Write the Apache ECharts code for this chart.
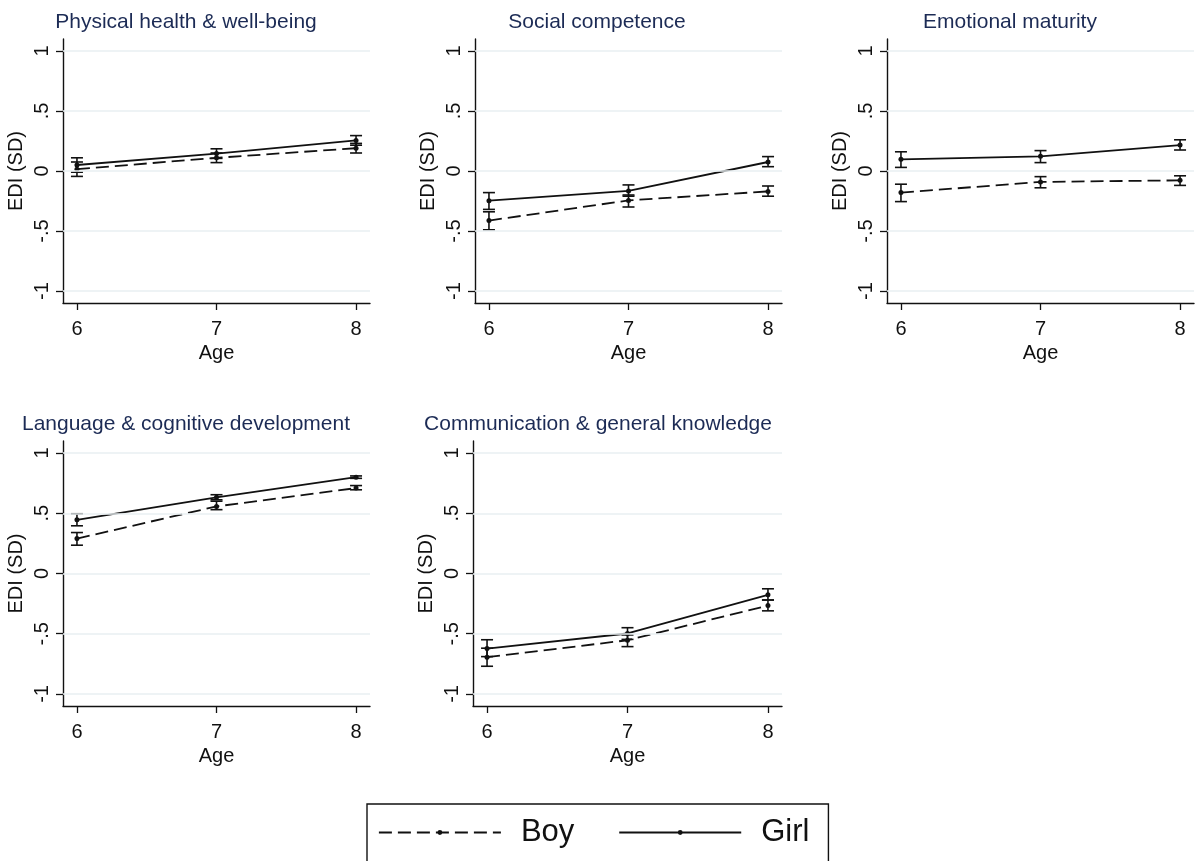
<!DOCTYPE html>
<html>
<head>
<meta charset="utf-8">
<script src="https://cdn.jsdelivr.net/npm/echarts@6/dist/echarts.min.js"></script>
<style>html,body{margin:0;padding:0;background:#fff;}#c{width:1196px;height:861px;}</style>
</head>
<body>
<div id="c"></div>
<script>
// ---- data ----
var ages = [6, 7, 8];
var yTicks = [-1, -0.5, 0, 0.5, 1];
var panelTitles = ['Physical health & well-being', 'Social competence', 'Emotional maturity',
  'Language & cognitive development', 'Communication & general knowledge'];

var boyPhysical = [0.015, 0.11, 0.19];
var boyPhysicalLo = [-0.045, 0.07, 0.15];
var boyPhysicalHi = [0.075, 0.15, 0.23];
var girlPhysical = [0.05, 0.145, 0.255];
var girlPhysicalLo = [-0.01, 0.105, 0.215];
var girlPhysicalHi = [0.11, 0.185, 0.295];

var boySocial = [-0.413, -0.245, -0.17];
var boySocialLo = [-0.49, -0.3, -0.21];
var boySocialHi = [-0.34, -0.2, -0.125];
var girlSocial = [-0.247, -0.166, 0.075];
var girlSocialLo = [-0.32, -0.21, 0.036];
var girlSocialHi = [-0.18, -0.116, 0.12];

var boyEmotional = [-0.18, -0.091, -0.078];
var boyEmotionalLo = [-0.255, -0.14, -0.12];
var boyEmotionalHi = [-0.11, -0.047, -0.04];
var girlEmotional = [0.097, 0.122, 0.216];
var girlEmotionalLo = [0.03, 0.07, 0.175];
var girlEmotionalHi = [0.16, 0.17, 0.26];

var boyLanguage = [0.29, 0.557, 0.709];
var boyLanguageLo = [0.235, 0.53, 0.695];
var boyLanguageHi = [0.34, 0.6, 0.73];
var girlLanguage = [0.446, 0.632, 0.80];
var girlLanguageLo = [0.396, 0.612, 0.79];
var girlLanguageHi = [0.496, 0.654, 0.81];

var boyComm = [-0.695, -0.554, -0.266];
var boyCommLo = [-0.77, -0.607, -0.31];
var boyCommHi = [-0.62, -0.51, -0.22];
var girlComm = [-0.623, -0.498, -0.177];
var girlCommLo = [-0.69, -0.547, -0.22];
var girlCommHi = [-0.55, -0.45, -0.127];

var panels = [
  {boy: boyPhysical, boyLo: boyPhysicalLo, boyHi: boyPhysicalHi, girl: girlPhysical, girlLo: girlPhysicalLo, girlHi: girlPhysicalHi},
  {boy: boySocial, boyLo: boySocialLo, boyHi: boySocialHi, girl: girlSocial, girlLo: girlSocialLo, girlHi: girlSocialHi},
  {boy: boyEmotional, boyLo: boyEmotionalLo, boyHi: boyEmotionalHi, girl: girlEmotional, girlLo: girlEmotionalLo, girlHi: girlEmotionalHi},
  {boy: boyLanguage, boyLo: boyLanguageLo, boyHi: boyLanguageHi, girl: girlLanguage, girlLo: girlLanguageLo, girlHi: girlLanguageHi},
  {boy: boyComm, boyLo: boyCommLo, boyHi: boyCommHi, girl: girlComm, girlLo: girlCommLo, girlHi: girlCommHi}
];

// ---- layout ----
var gridPos = [
  {left: 63, top: 39, width: 307, height: 264, tc: 186, ty: 22},
  {left: 475, top: 39, width: 307, height: 264, tc: 597, ty: 22},
  {left: 887, top: 39, width: 307, height: 264, tc: 1010, ty: 22},
  {left: 63, top: 441, width: 307, height: 265, tc: 186, ty: 424},
  {left: 473, top: 441, width: 309, height: 265, tc: 598, ty: 424}
];

var FONT = 'Liberation Sans, Arial, Helvetica, sans-serif';
var dark = '#111';
var DASH = [13, 6];

function yFmt(v) {
  if (v === 0) return '0';
  var s = String(Math.abs(v)).replace(/^0/, '');
  return (v < 0 ? '-' : '') + s;
}

var grids = [], xAxes = [], yAxes = [], series = [], graphics = [];

panels.forEach(function (p, i) {
  var g = gridPos[i];
  grids.push({left: g.left, top: g.top, width: g.width, height: g.height, containLabel: false});
  xAxes.push({
    type: 'value', gridIndex: i, min: 5.9, max: 8.1,
    name: 'Age', nameLocation: 'middle', nameGap: 40,
    nameTextStyle: {fontFamily: FONT, fontSize: 20, color: dark},
    axisLine: {show: true, onZero: false, lineStyle: {color: dark, width: 1.4}},
    axisTick: {show: true, customValues: ages, length: 7, lineStyle: {color: dark, width: 1.3}},
    axisLabel: {show: true, customValues: ages, margin: 16, fontFamily: FONT, fontSize: 20, color: dark},
    splitLine: {show: false}
  });
  yAxes.push({
    type: 'value', gridIndex: i, min: -1.1, max: 1.1,
    name: 'EDI (SD)', nameLocation: 'middle', nameGap: 37,
    nameTextStyle: {fontFamily: FONT, fontSize: 20, color: dark},
    axisLine: {show: true, onZero: false, lineStyle: {color: dark, width: 1.4}},
    axisTick: {show: true, customValues: yTicks, length: 7, lineStyle: {color: dark, width: 1.3}},
    axisLabel: {show: true, customValues: yTicks, rotate: 90, margin: 11, fontFamily: FONT, fontSize: 20, color: dark, formatter: yFmt},
    splitLine: {show: false}
  });
  // light horizontal grid lines
  series.push({
    type: 'line', xAxisIndex: i, yAxisIndex: i, data: [], silent: true, z: 0,
    markLine: {
      silent: true, symbol: ['none', 'none'], label: {show: false},
      lineStyle: {color: '#e9eff2', width: 1.5, type: 'solid'},
      data: yTicks.map(function (v) { return {yAxis: v}; })
    }
  });
  [['Boy', p.boy, p.boyLo, p.boyHi, 'dashed'], ['Girl', p.girl, p.girlLo, p.girlHi, 'solid']].forEach(function (s) {
    var pts = ages.map(function (a, k) { return [a, s[1][k]]; });
    var ci = ages.map(function (a, k) { return [a, s[2][k], s[3][k]]; });
    series.push({
      name: s[0] + ' CI', type: 'custom', xAxisIndex: i, yAxisIndex: i, z: 3,
      data: ci, silent: true,
      renderItem: function (params, api) {
        var x = api.value(0);
        var lo = api.coord([x, api.value(1)]);
        var hi = api.coord([x, api.value(2)]);
        var w = 6;
        var st = {stroke: dark, lineWidth: 1.6};
        return {
          type: 'group', children: [
            {type: 'line', shape: {x1: lo[0], y1: lo[1], x2: hi[0], y2: hi[1]}, style: st},
            {type: 'line', shape: {x1: lo[0] - w, y1: lo[1], x2: lo[0] + w, y2: lo[1]}, style: st},
            {type: 'line', shape: {x1: hi[0] - w, y1: hi[1], x2: hi[0] + w, y2: hi[1]}, style: st}
          ]
        };
      }
    });
    series.push({
      name: s[0], type: 'line', xAxisIndex: i, yAxisIndex: i, z: 4,
      data: pts, symbol: 'circle', symbolSize: 5, showSymbol: true,
      itemStyle: {color: dark},
      lineStyle: {color: dark, width: 1.8, type: s[4] === 'dashed' ? DASH : 'solid'},
      emphasis: {disabled: true}, animation: false
    });
  });
  graphics.push({
    type: 'text', x: g.tc, y: g.ty,
    style: {text: panelTitles[i], fontFamily: FONT, fontSize: 21, fill: '#1c2b55', textAlign: 'center', textVerticalAlign: 'middle'}
  });
});

var chart = echarts.init(document.getElementById('c'), null, {renderer: 'canvas'});
chart.setOption({
  backgroundColor: '#fff',
  animation: false,
  grid: grids,
  xAxis: xAxes,
  yAxis: yAxes,
  series: series,
  graphic: graphics,
  legend: {
    data: [
      {name: 'Boy', lineStyle: {type: DASH, width: 1.8}},
      {name: 'Girl', lineStyle: {type: 'solid', width: 1.8}}
    ],
    left: 367, top: 804,
    orient: 'horizontal',
    itemWidth: 122, itemHeight: 6, itemGap: 44,
    borderColor: dark, borderWidth: 1.4, borderRadius: 0,
    padding: [13, 19, 40, 11],
    selectedMode: false,
    textStyle: {fontFamily: FONT, fontSize: 31, color: dark, padding: [0, 0, 0, 15]}
  }
});
</script>
</body>
</html>
